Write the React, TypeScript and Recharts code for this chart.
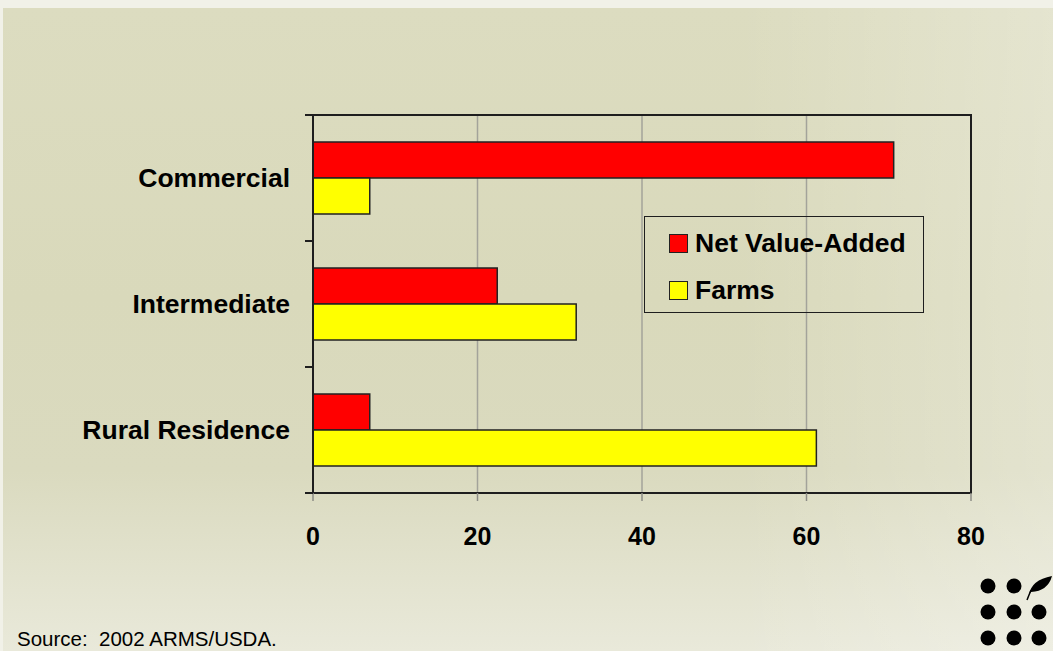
import { BarChart, Bar, XAxis, YAxis, CartesianGrid, Legend, ReferenceArea } from 'recharts';

const CATEGORIES = ['Commercial', 'Intermediate', 'Rural Residence'];
const NET_VALUE_ADDED = [70.6, 22.4, 6.9];
const FARMS = [6.9, 32.0, 61.2];
const SERIES_ORDER = ['Net Value-Added', 'Farms'];
const X_TICKS = [0, 20, 40, 60, 80];
const SOURCE_NOTE = 'Source:  2002 ARMS/USDA.';

const data = CATEGORIES.map((name, i) => ({
  name,
  nva: NET_VALUE_ADDED[i],
  farms: FARMS[i],
}));

const FONT = '"Liberation Sans", Arial, Helvetica, sans-serif';
const AXIS = '#1e1e1e';

// category label plus the small tick marks Excel draws at band edges
function CategoryTick(props: any) {
  const { x, y, payload, index } = props;
  const half = payload?.offset ?? 63;
  const lx1 = x + 15;
  const lx2 = x + 23;
  return (
    <g>
      <text
        x={x}
        y={y}
        textAnchor="end"
        dominantBaseline="central"
        fill="#000"
        fontSize={26.5}
        fontWeight={700}
        fontFamily={FONT}
      >
        {payload.value}
      </text>
      <line x1={lx1} x2={lx2} y1={y - half} y2={y - half} stroke={AXIS} strokeWidth={2} />
      {index === CATEGORIES.length - 1 && (
        <line x1={lx1} x2={lx2} y1={y + half} y2={y + half} stroke={AXIS} strokeWidth={2} />
      )}
    </g>
  );
}

function LegendBox({ payload }: any) {
  const items = SERIES_ORDER.map((n) => (payload || []).find((p: any) => p.value === n)).filter(Boolean);
  return (
    <div
      style={{
        width: 280,
        height: 97,
        boxSizing: 'border-box',
        border: `1.5px solid ${AXIS}`,
        position: 'relative',
        fontFamily: FONT,
      }}
    >
      {items.map((item: any, i: number) => (
        <div
          key={item.value}
          style={{
            position: 'absolute',
            left: 24,
            top: 16 + i * 47,
            display: 'flex',
            alignItems: 'center',
            height: 20,
          }}
        >
          <span
            style={{
              width: 17,
              height: 17,
              background: item.color,
              border: '1px solid #222',
              display: 'inline-block',
              marginRight: 7,
            }}
          />
          <span style={{ fontSize: 26.5, fontWeight: 700, color: '#000', lineHeight: '20px' }}>
            {item.value}
          </span>
        </div>
      ))}
    </div>
  );
}

export default function App() {
  return (
    <div
      style={{
        position: 'absolute',
        left: 0,
        top: 0,
        width: 1053,
        height: 651,
        background: '#f1f1e8',
        overflow: 'hidden',
      }}
    >
      <div
        style={{
          position: 'absolute',
          left: 3,
          top: 8,
          right: 0,
          bottom: 0,
          background:
            'linear-gradient(180deg, #dcdcc0 0%, #d9d9bb 45%, #dadabf 72%, #e9e9da 100%)',
        }}
      />
      <div
        style={{
          position: 'absolute',
          left: 3,
          top: 8,
          right: 0,
          bottom: 0,
          background:
            'linear-gradient(90deg, rgba(255,255,255,0) 0%, rgba(255,255,255,0) 70%, rgba(255,255,255,0.25) 100%)',
        }}
      />
      <div style={{ position: 'absolute', left: 0, top: 0 }}>
        <BarChart
          width={1053}
          height={651}
          data={data}
          layout="vertical"
          margin={{ top: 115, right: 82, bottom: 98, left: 0 }}
          barGap={0}
        >
          <CartesianGrid horizontal={false} stroke="#a3a39a" strokeWidth={1.5} />
          <ReferenceArea x1={0} x2={80} fill="none" stroke={AXIS} strokeWidth={2} ifOverflow="visible" />
          <XAxis
            type="number"
            domain={[0, 80]}
            ticks={X_TICKS}
            interval={0}
            height={60}
            tickSize={8}
            tickMargin={26}
            axisLine={{ stroke: AXIS, strokeWidth: 2 }}
            tickLine={{ stroke: '#8c8c86', strokeWidth: 1.5 }}
            tick={{ fill: '#000', fontSize: 25, fontWeight: 700, fontFamily: FONT }}
          />
          <YAxis
            type="category"
            dataKey="name"
            width={313}
            tickSize={8}
            tickMargin={15}
            tickLine={false}
            axisLine={{ stroke: AXIS, strokeWidth: 2 }}
            tick={<CategoryTick />}
            interval={0}
          />
          <Legend
            layout="vertical"
            align="center"
            verticalAlign="middle"
            wrapperStyle={{ left: 644, top: 216, width: 280, height: 97 }}
            content={<LegendBox />}
          />
          <Bar
            dataKey="nva"
            name="Net Value-Added"
            fill="#ff0000"
            stroke="#222"
            strokeWidth={1.5}
            barSize={36}
            isAnimationActive={false}
          />
          <Bar
            dataKey="farms"
            name="Farms"
            fill="#ffff00"
            stroke="#222"
            strokeWidth={1.5}
            barSize={36}
            isAnimationActive={false}
          />
        </BarChart>
      </div>
      <svg
        width={1053}
        height={651}
        style={{ position: 'absolute', left: 0, top: 0, pointerEvents: 'none' }}
      >
        <text x={17} y={646} fontSize={20.5} fontFamily={FONT} fill="#000" style={{ whiteSpace: 'pre' }}>
          {SOURCE_NOTE}
        </text>
        <g fill="#000">
          <circle cx={988} cy={586} r={7.5} />
          <circle cx={1014} cy={586} r={7.5} />
          <circle cx={988} cy={612} r={7.5} />
          <circle cx={1014} cy={612} r={7.5} />
          <circle cx={1039} cy={612} r={7.5} />
          <circle cx={988} cy={638} r={7.5} />
          <circle cx={1014} cy={638} r={7.5} />
          <circle cx={1039} cy={638} r={7.5} />
          <path d="M1029 595 Q1031 580 1052 576 Q1048 591 1031 592 Z" />
          <path d="M1027 600 L1031 590" stroke="#000" strokeWidth={1.5} />
        </g>
      </svg>
    </div>
  );
}
